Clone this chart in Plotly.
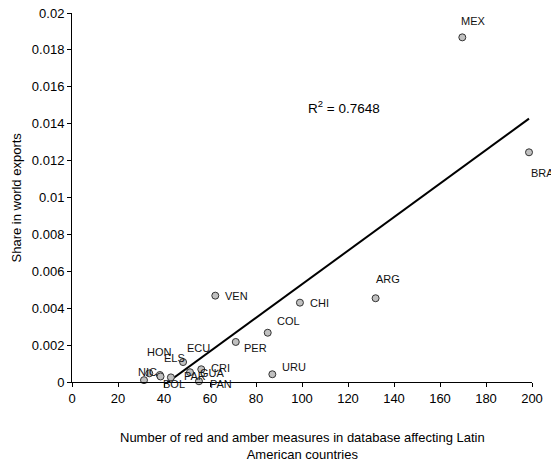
import numpy as np
import plotly.graph_objects as go

countries = ["MEX", "BRA", "ARG", "CHI", "VEN", "COL", "PER", "URU", "ECU",
             "CRI", "GUA", "PAR", "ELS", "BOL", "HON", "NIC", "PAN"]
measures = [169.7, 198.7, 132.0, 99.1, 62.3, 85.1, 71.2, 87.1, 48.3,
            56.2, 51.3, 43.0, 38.2, 38.5, 33.6, 31.3, 55.2]
export_share = [0.01868, 0.01245, 0.00454, 0.00430, 0.00468, 0.00267, 0.00217, 0.00042, 0.00108,
                0.00069, 0.00053, 0.00025, 0.00038, 0.00030, 0.00047, 0.00010, 0.00004]
r2_text = "R<sup>2</sup> = 0.7648"
x_title = "Number of red and amber measures in database affecting Latin<br>American countries"
y_title = "Share in world exports"

# label offsets in pixels (left edge / vertical middle relative to the marker)
label_dx = [-3, 0, -2, 8, 8, 7, 6, 8, 2, 8, 8, 11, 2, 0, -4, -8, 9]
label_dy = [-16, 21, -19, 0, 0, -12, 6, -7, -14, -1, 1, -1, -17, 8, -21, -8, 3]

x = np.array(measures)
y = np.array(export_share)
slope, intercept = np.polyfit(x, y, 1)
xl = np.array([x.min(), x.max()])
yl = slope * xl + intercept

FONT = "Liberation Sans, Arial"

fig = go.Figure()
fig.add_trace(go.Scatter(x=xl, y=yl, mode="lines",
                         line=dict(color="black", width=2), hoverinfo="skip"))
fig.add_trace(go.Scatter(x=measures, y=export_share, mode="markers", text=countries,
                         marker=dict(size=7, color="#c0c0c0",
                                     line=dict(color="#333333", width=1)),
                         cliponaxis=False))

for c, xv, yv, dx, dy in zip(countries, measures, export_share, label_dx, label_dy):
    fig.add_annotation(x=xv, y=yv, text=c, showarrow=False, xanchor="left",
                       yanchor="middle", xshift=dx, yshift=-dy,
                       font=dict(family=FONT, size=11, color="#111111"))

fig.add_annotation(x=0.592, y=0.745, xref="paper", yref="paper", text=r2_text,
                   showarrow=False, xanchor="center", yanchor="middle",
                   font=dict(family=FONT, size=13.5, color="black"))

# axis titles
fig.add_annotation(x=0.5, y=0, xref="paper", yref="paper", text=x_title,
                   showarrow=False, xanchor="center", yanchor="top", yshift=-46,
                   font=dict(family=FONT, size=13, color="black"))
fig.add_annotation(x=0, y=0.5, xref="paper", yref="paper", text=y_title, textangle=-90,
                   showarrow=False, xanchor="center", yanchor="middle", xshift=-56,
                   font=dict(family=FONT, size=13, color="black"))

fig.update_layout(
    width=551, height=462,
    margin=dict(l=72, r=19, t=13, b=80),
    paper_bgcolor="white", plot_bgcolor="white",
    showlegend=False,
    font=dict(family=FONT, size=13, color="black"),
    xaxis=dict(range=[0, 200], dtick=20, showgrid=False, zeroline=False,
               showline=True, linecolor="black", linewidth=1,
               ticks="outside", ticklen=4, tickcolor="black",
               tickfont=dict(size=13), automargin=False),
    yaxis=dict(range=[0, 0.02], dtick=0.002, showgrid=False, zeroline=False,
               showline=True, linecolor="black", linewidth=1,
               ticks="outside", ticklen=4, tickcolor="black",
               tickformat="~g", tickfont=dict(size=13), automargin=False),
)

fig.write_html("out.html")
